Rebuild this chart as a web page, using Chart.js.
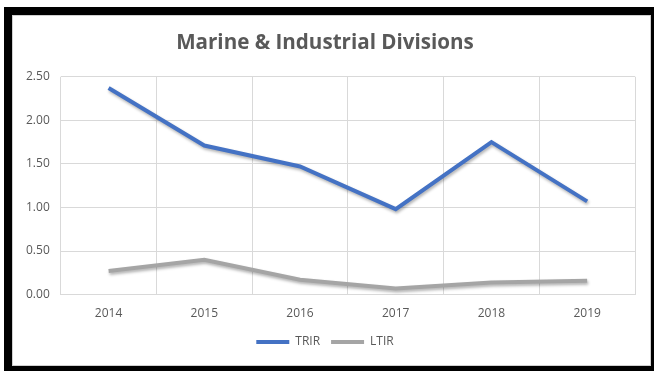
<!DOCTYPE html>
<html>
<head>
<meta charset="utf-8">
<script src="https://cdn.jsdelivr.net/npm/chart.js@4.4.1/dist/chart.umd.min.js"></script>
<style>
    body { margin: 0; background: #fff; }
    #frame { position: absolute; left: 4px; top: 7px; right: 0; bottom: 0; background: #000; }
    #panel { position: absolute; left: 12px; top: 15px; width: 639px; height: 351px; background: #fff; border: 1px solid #d0d0d0; box-sizing: border-box; }
    #lineChart { position: absolute; left: 0; top: 0; }
</style>
</head>
<body>
<div id="frame"></div>
<div id="panel"></div>
<canvas id="lineChart" width="654" height="371"></canvas>
<script>
var years = ['2014', '2015', '2016', '2017', '2018', '2019'];
var trir = [2.37, 1.71, 1.47, 0.98, 1.75, 1.07];
var ltir = [0.27, 0.40, 0.17, 0.07, 0.14, 0.16];
var yTicks = [0, 0.5, 1, 1.5, 2, 2.5];

var textColor = '#595959';
var gridColor = '#d9d9d9';

// soft shadow under the lines, like the office chart
var lineShadow = {
    id: 'lineShadow',
    beforeDatasetsDraw: function (chart) {
        var ctx = chart.ctx;
        ctx.save();
        ctx.shadowColor = 'rgba(0,0,0,0.3)';
        ctx.shadowBlur = 3;
        ctx.shadowOffsetX = 1;
        ctx.shadowOffsetY = 2;
    },
    afterDatasetsDraw: function (chart) {
        chart.ctx.restore();
    }
};

var ctx = document.getElementById('lineChart').getContext('2d');
var chart = new Chart(ctx, {
    type: 'line',
    data: {
        labels: years,
        datasets: [
            { label: 'TRIR', data: trir, borderColor: '#4472c4', backgroundColor: '#4472c4', borderWidth: 4, pointRadius: 0, tension: 0 },
            { label: 'LTIR', data: ltir, borderColor: '#a5a5a5', backgroundColor: '#a5a5a5', borderWidth: 4, pointRadius: 0, tension: 0 }
        ]
    },
    options: {
        responsive: false,
        animation: false,
        layout: { padding: { left: 15, right: 19, top: 31, bottom: 13 } },
        plugins: {
            title: {
                display: true,
                text: 'Marine & Industrial Divisions',
                color: textColor,
                font: { family: 'Open Sans', size: 20.6, weight: 'bold', lineHeight: 1.2 },
                padding: { top: 0, bottom: 21 }
            },
            legend: {
                position: 'bottom',
                labels: {
                    usePointStyle: true,
                    pointStyle: 'line',
                    pointStyleWidth: 33,
                    color: textColor,
                    padding: 11,
                    font: { family: 'Open Sans', size: 12 }
                }
            },
            tooltip: { enabled: false }
        },
        scales: {
            x: {
                offset: true,
                grid: { offset: true, color: gridColor, drawTicks: false },
                border: { color: gridColor },
                ticks: { color: textColor, padding: 12, font: { family: 'Open Sans', size: 12 } },
                afterFit: function (scale) { scale.height -= 8; }
            },
            y: {
                min: 0,
                max: 2.5,
                afterBuildTicks: function (scale) {
                    scale.ticks = yTicks.map(function (v) { return { value: v }; });
                },
                grid: { color: gridColor, drawTicks: false },
                border: { display: false },
                ticks: {
                    color: textColor,
                    padding: 11,
                    font: { family: 'Open Sans', size: 12 },
                    callback: function (v) { return Number(v).toFixed(2); }
                }
            }
        }
    },
    plugins: [lineShadow]
});
</script>
</body>
</html>
